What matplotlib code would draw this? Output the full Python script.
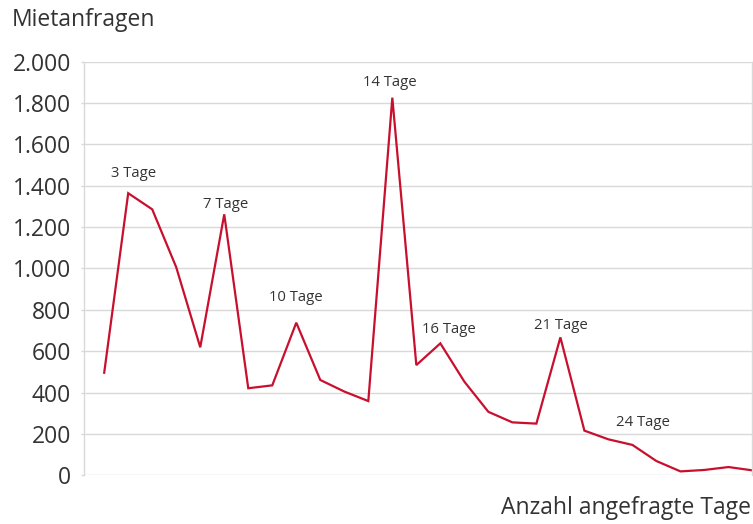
import matplotlib
matplotlib.use("Agg")
import matplotlib.pyplot as plt
from matplotlib.ticker import FuncFormatter, MultipleLocator

days = list(range(2, 30))
requests = [496, 1364, 1286, 1006, 619, 1262, 421, 435, 738, 461, 405, 359,
            1826, 533, 638, 453, 307, 256, 250, 667, 216, 174, 147, 69, 19,
            26, 40, 24]
label_days = [3, 7, 10, 14, 16, 21, 24]
label_texts = ["3 Tage", "7 Tage", "10 Tage", "14 Tage", "16 Tage", "21 Tage", "24 Tage"]
label_offsets = [(5, 20), (1, 10), (0, 25), (-3, 15), (9, 14), (0, 12), (11, 22)]

plt.rcParams['font.family'] = ['Open Sans', 'DejaVu Sans']
text_color = "#333333"
grid_color = "#d9d9d9"
red = "#C8102E"

fig = plt.figure(figsize=(7.53, 5.24), dpi=100)
ax = fig.add_axes([0.1116, 0.0929, 0.8877, 0.7894])

ax.plot(days, requests, color=red, linewidth=1.6, solid_joinstyle='miter', clip_on=False)

for d, t, off in zip(label_days, label_texts, label_offsets):
    v = requests[days.index(d)]
    ax.annotate(t, (d, v), xytext=off, textcoords='offset pixels',
                ha='center', va='center', fontsize=10.7, color=text_color)

ax.set_xlim(1.16, 29)
ax.set_ylim(0, 2000)
ax.yaxis.set_major_locator(MultipleLocator(200))
ax.yaxis.set_major_formatter(FuncFormatter(lambda v, p: f"{int(v):,}".replace(",", ".")))
ax.grid(axis='y', color=grid_color, linewidth=1.0)
ax.set_axisbelow(True)
ax.set_xticks([])
ax.tick_params(axis='y', length=2.5, width=1, color=grid_color, labelsize=16.5,
               labelcolor=text_color, pad=7)
for s in ['top', 'bottom']:
    ax.spines[s].set_visible(False)
for s in ['left', 'right']:
    ax.spines[s].set_color(grid_color)
    ax.spines[s].set_linewidth(1.0)

fig.text(12 / 753, 1 - 20 / 524, "Mietanfragen", ha='left', va='center',
         fontsize=16.5, color=text_color)
fig.text(751 / 753, 1 - 508 / 524, "Anzahl angefragte Tage", ha='right', va='center',
         fontsize=16.5, color=text_color)

fig.savefig("out.png", dpi=100)
